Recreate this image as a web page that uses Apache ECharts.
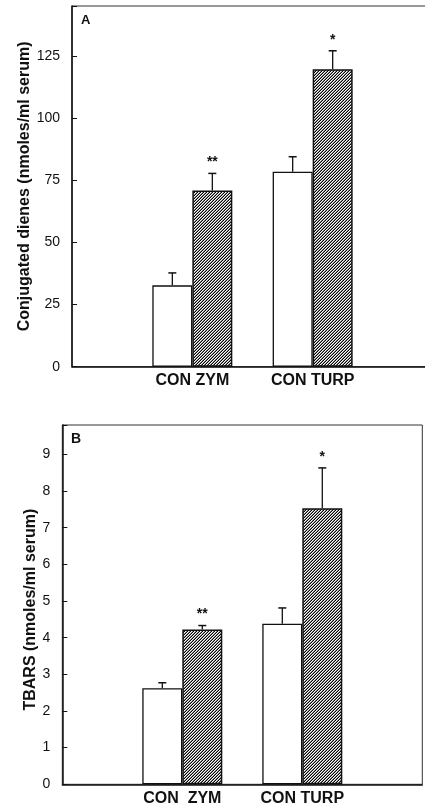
<!DOCTYPE html>
<html>
<head>
<meta charset="utf-8">
<script src="https://cdn.jsdelivr.net/npm/echarts@6/dist/echarts.min.js"></script>
<style>
  html, body { margin: 0; padding: 0; background: #fff; }
  #chart { width: 425px; height: 806px; }
</style>
</head>
<body>
<div id="chart"></div>
<script>
// Panel A: conjugated dienes (nmoles/ml serum)
const groupsA = ['CON ZYM', 'CON TURP'];
const conA = [32.7, 78.4];
const conErrA = [5.0, 6.0];
const trtA = [70.8, 119.6];
const trtErrA = [6.9, 7.4];
const sigA = ['**', '*'];
const ticksA = [0, 25, 50, 75, 100, 125];

// Panel B: TBARS (nmoles/ml serum)
const groupsB = ['CON  ZYM', 'CON TURP'];
const conB = [2.62, 4.38];
const conErrB = [0.15, 0.43];
const trtB = [4.22, 7.53];
const trtErrB = [0.11, 1.10];
const sigB = ['**', '*'];
const ticksB = [0, 1, 2, 3, 4, 5, 6, 7, 8, 9];

const FONT = '"Liberation Sans", Arial, Helvetica, sans-serif';
const INK = '#111';
const BAR_W = 40;

// dense "////" hatching as a repeating canvas tile
function hatchTile() {
  const c = document.createElement('canvas');
  c.width = 3; c.height = 3;
  const g = c.getContext('2d');
  g.fillStyle = '#fff';
  g.fillRect(0, 0, 3, 3);
  for (let y = 0; y < 3; y++) {
    for (let x = 0; x < 3; x++) {
      const k = (x + y) % 3;
      if (k === 2) { g.fillStyle = '#000'; g.fillRect(x, y, 1, 1); }
      else if (k === 1) { g.fillStyle = '#8a8a8a'; g.fillRect(x, y, 1, 1); }
    }
  }
  return c;
}
const hatch = { image: hatchTile(), repeat: 'repeat' };

function padded(arr) { return ['-'].concat(arr, ['-']); }
function cats(groups) { return [''].concat(groups, ['']); }

function errorData(con, conErr, trt, trtErr, sig) {
  const out = [];
  con.forEach((v, i) => {
    out.push([i + 1, v, conErr[i], -1, '']);
    out.push([i + 1, trt[i], trtErr[i], 1, sig[i]]);
  });
  return out;
}

function errorSeries(idx, data) {
  return {
    type: 'custom',
    xAxisIndex: idx, yAxisIndex: idx,
    z: 5,
    silent: true,
    data: data,
    renderItem: function (params, api) {
      const cat = api.value(0);
      const v = api.value(1);
      const e = api.value(2);
      const side = api.value(3);
      const mark = data[params.dataIndex][4];
      const base = api.coord([cat, v]);
      const top = api.coord([cat, v + e]);
      const cx = base[0] + side * BAR_W / 2;
      const children = [
        { type: 'line', shape: { x1: cx, y1: base[1], x2: cx, y2: top[1] },
          style: { stroke: INK, lineWidth: 1.3 } },
        { type: 'line', shape: { x1: cx - 4, y1: top[1], x2: cx + 4, y2: top[1] },
          style: { stroke: INK, lineWidth: 1.5 } }
      ];
      if (mark) {
        children.push({ type: 'text', style: {
          text: mark, x: cx, y: top[1] - 4, align: 'center', verticalAlign: 'bottom',
          font: 'bold 14px ' + FONT, fill: INK } });
      }
      return { type: 'group', children: children };
    }
  };
}

function yAxis(idx, name, max, interval, ticks, gap, pad) {
  return {
    type: 'value', gridIndex: idx, min: 0, max: max, interval: interval,
    name: name, nameLocation: 'middle', nameGap: gap, nameMoveOverlap: false,
    nameTextStyle: { fontFamily: FONT, fontWeight: 'bold', fontSize: 16, color: INK, padding: pad },
    axisLine: { show: true, lineStyle: { color: INK, width: 1.5 } },
    axisTick: { show: true, inside: true, length: 5, lineStyle: { color: INK, width: 1 } },
    splitLine: { show: false },
    axisLabel: {
      margin: 12, fontFamily: FONT, fontSize: 14, color: INK,
      formatter: function (v) { return ticks.indexOf(+v.toFixed(6)) >= 0 ? String(v) : ''; }
    }
  };
}

function xAxis(idx, groups) {
  return {
    type: 'category', gridIndex: idx, data: cats(groups), boundaryGap: false,
    axisLine: { show: true, lineStyle: { color: INK, width: 1.5 } },
    axisTick: { show: false },
    splitLine: { show: false },
    axisLabel: { interval: 0, margin: 6, fontFamily: FONT, fontWeight: 'bold', fontSize: 16, color: INK }
  };
}

function barPair(idx, con, trt) {
  return [
    { type: 'bar', xAxisIndex: idx, yAxisIndex: idx, data: padded(con), barWidth: BAR_W, barGap: '0%',
      itemStyle: { color: '#fff', borderColor: INK, borderWidth: 1.3 }, silent: true },
    { type: 'bar', xAxisIndex: idx, yAxisIndex: idx, data: padded(trt), barWidth: BAR_W, barGap: '0%',
      itemStyle: { color: hatch, borderColor: INK, borderWidth: 1.5 }, silent: true }
  ];
}

const chart = echarts.init(document.getElementById('chart'), null, { renderer: 'canvas' });
chart.setOption({
  backgroundColor: '#fff',
  animation: false,
  grid: [
    { left: 72, top: 6, width: 361, height: 360.7, show: true, borderColor: '#333', borderWidth: 1,
      backgroundColor: 'transparent', outerBoundsMode: 'none' },
    { left: 62.3, top: 425, width: 360, height: 359.3, show: true, borderColor: '#333', borderWidth: 1,
      backgroundColor: 'transparent', outerBoundsMode: 'none' }
  ],
  xAxis: [xAxis(0, groupsA), xAxis(1, groupsB)],
  yAxis: [
    yAxis(0, 'Conjugated dienes (nmoles/ml serum)', 145, 25, ticksA, 39, [0, 0, 0, 0]),
    yAxis(1, 'TBARS (nmoles/ml serum)', 9.8, 1, ticksB, 24, [0, 10, 0, 0])
  ],
  series: [].concat(
    barPair(0, conA, trtA),
    barPair(1, conB, trtB),
    [errorSeries(0, errorData(conA, conErrA, trtA, trtErrA, sigA)),
     errorSeries(1, errorData(conB, conErrB, trtB, trtErrB, sigB))]
  ),
  graphic: [
    { type: 'text', left: 81, top: 14, style: { text: 'A', font: 'bold 13px ' + FONT, fill: INK } },
    { type: 'text', left: 71, top: 432, style: { text: 'B', font: 'bold 14px ' + FONT, fill: INK } }
  ]
});
</script>
</body>
</html>
